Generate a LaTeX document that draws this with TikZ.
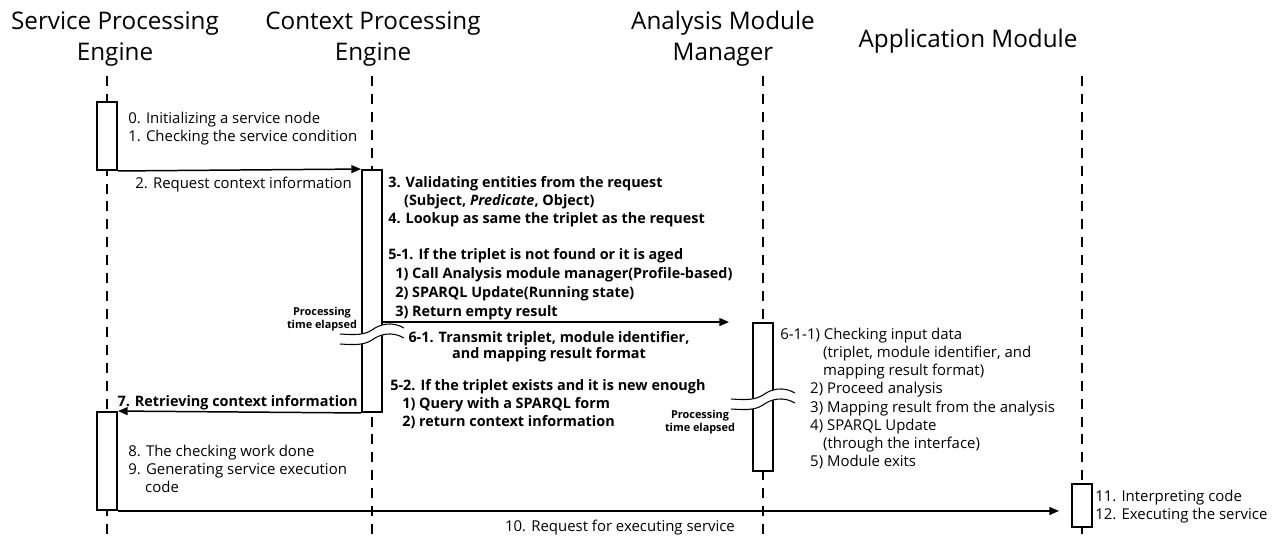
\documentclass[tikz,border=0pt]{standalone}
\usepackage{fontspec}
\setmainfont{Open Sans}
\usetikzlibrary{arrows.meta, fit}

\begin{document}
\begin{tikzpicture}[x=0.02cm, y=-0.02cm,
  actor/.style={align=center, inner sep=0, anchor=north, font=\fontsize{13.8}{17.6}\selectfont},
  lifeline/.style={line width=1pt, dash pattern=on 5.7pt off 4.5pt},
  actbox/.style={draw, line width=1.1pt, fill=white, inner sep=0},
  msg/.style={-{Triangle[length=5.5pt, width=4.5pt]}, line width=0.85pt},
  note/.style={align=left, inner sep=0, anchor=north west, font=\fontsize{8.5}{10.2}\selectfont},
  bnote/.style={note, font=\bfseries\fontsize{8.2}{10.4}\selectfont},
  waitlbl/.style={align=center, inner sep=0, font=\bfseries\fontsize{6.2}{7.4}\selectfont},
  timebreak/.pic={
    \fill[white] (-32,5) .. controls (-16,6) and (-8,6) .. (0,1) .. controls (8,-5) and (20,-8) .. (32,-1)
      -- (32,9) .. controls (20,2) and (8,5) .. (0,11) .. controls (-8,16) and (-16,16) .. (-32,15) -- cycle;
    \draw[line width=0.6pt] (-32,5) .. controls (-16,6) and (-8,6) .. (0,1) .. controls (8,-5) and (20,-8) .. (32,-1);
    \draw[line width=0.6pt] (-32,15) .. controls (-16,16) and (-8,16) .. (0,11) .. controls (8,5) and (20,2) .. (32,9);
  }
]
  \useasboundingbox (0,0) rectangle (1276,535);

  % participants
  \node[actor] (spe) at (115,11) {Service Processing\\Engine};
  \node[actor] (cpe) at (373,11) {Context Processing\\Engine};
  \node[actor] (amm) at (723,11) {Analysis Module\\Manager};
  \node[actor] (am) at (968,29) {Application Module};

  % lifelines
  \coordinate (spe top) at (107,76);  \coordinate (spe end) at (107,535);
  \coordinate (cpe top) at (372,76);  \coordinate (cpe end) at (372,535);
  \coordinate (amm top) at (763,76);  \coordinate (amm end) at (763,535);
  \coordinate (am top) at (1082,76);  \coordinate (am end) at (1082,535);
  \draw[lifeline] (spe top) -- (spe end);
  \draw[lifeline] (cpe top) -- (cpe end);
  \draw[lifeline] (amm top) -- (amm end);
  \draw[lifeline] (am top) -- (am end);

  % activation boxes
  \node[actbox, fit={(97,102) (117,170)}] (spe1) {};
  \node[actbox, fit={(362,170) (382,412)}] (cpe1) {};
  \node[actbox, fit={(97,412) (117,510)}] (spe2) {};
  \node[actbox, fit={(753,323) (773,471)}] (amm1) {};
  \node[actbox, fit={(1072,484) (1092,527)}] (am1) {};

  % waiting periods
  \pic (cpe break) at (372,329) {timebreak};
  \pic (amm break) at (763,394) {timebreak};
  \node[waitlbl] (cpe wait) at (322,319) {Processing\\time elapsed};
  \node[waitlbl] (amm wait) at (700,422) {Processing\\time elapsed};

  % messages
  \draw[msg] (spe1.south east) -- (cpe1.north west);
  \draw[msg, shorten >=0.46cm] (cpe1.east |- amm1.north) -- (amm1.north west);
  \draw[msg] (cpe1.south west) -- (spe2.north east);
  \draw[msg, shorten >=0.24cm] (spe2.south east) -- (spe2.south east -| am1.west);

  % texts
  \node[note] (spe note a) at (128,112) {0. Initializing a service node\\1. Checking the service condition};
  \node[note] (req lbl) at (135,177) {2. Request context information};
  \node[bnote] (cpe note a) at (388,176) {3. Validating entities from the request\\\hspace*{9pt}(Subject, \textit{Predicate}, Object)\\4. Lookup as same the triplet as the request};
  \node[bnote, font=\bfseries\fontsize{8.2}{10.8}\selectfont] (cpe note b) at (388,248) {5-1. If the triplet is not found or it is aged\\\hspace*{4pt}1) Call Analysis module manager(Profile-based)\\\hspace*{4pt}2) SPARQL Update(Running state)\\\hspace*{4pt}3) Return empty result};
  \node[bnote, align=center, anchor=north, font=\bfseries\fontsize{8.2}{9.4}\selectfont] (tx lbl) at (549,331) {6-1. Transmit triplet, module identifier,\\and mapping result format};
  \node[bnote] (cpe note c) at (390,379) {5-2. If the triplet exists and it is new enough\\\hspace*{6.8pt}1) Query with a SPARQL form\\\hspace*{6.8pt}2) return context information};
  \node[bnote, anchor=base east] (ret lbl) at (358,406) {7. Retrieving context information};
  \node[note] (spe note b) at (128,445) {8. The checking work done\\9. Generating service execution\\\hspace*{9.6pt}code};
  \node[note, anchor=north] (exec lbl) at (620,520) {10. Request for executing service};
  \node[note, font=\fontsize{8.5}{10.3}\selectfont] (amm note) at (780,328) {6-1-1) Checking input data\\\hspace*{24.4pt}(triplet, module identifier, and\\\hspace*{24.4pt}mapping result format)\\\hspace*{17pt}2) Proceed analysis\\\hspace*{17pt}3) Mapping result from the analysis\\\hspace*{17pt}4) SPARQL Update\\\hspace*{24.4pt}(through the interface)\\\hspace*{17pt}5) Module exits};
  \node[note] (am note) at (1095,490) {11. Interpreting code\\12. Executing the service};
\end{tikzpicture}
\end{document}
